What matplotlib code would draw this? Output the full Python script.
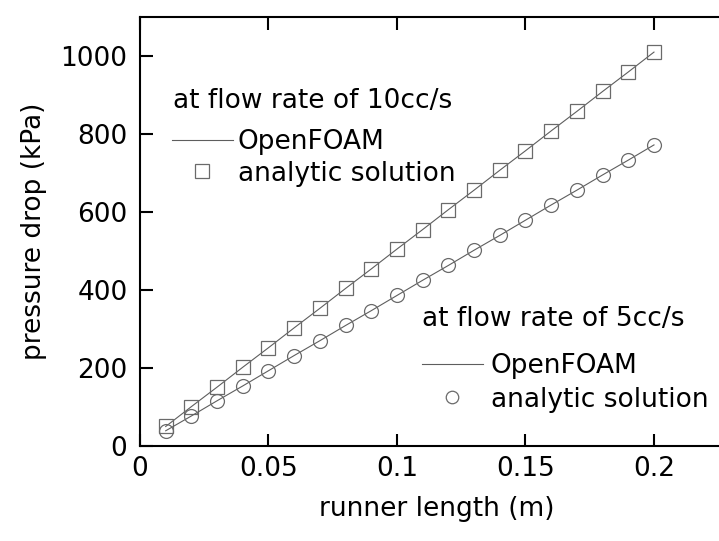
import matplotlib.pyplot as plt
from matplotlib.lines import Line2D

plt.rcParams['font.family'] = ['DejaVu Sans']

# runner length (m)
length = [0.01, 0.02, 0.03, 0.04, 0.05, 0.06, 0.07, 0.08, 0.09, 0.10,
          0.11, 0.12, 0.13, 0.14, 0.15, 0.16, 0.17, 0.18, 0.19, 0.20]
# pressure drop (kPa), 10cc/s
dp_10_openfoam = [50, 101, 151, 202, 252, 303, 353, 404, 454, 505,
                  555, 606, 656, 707, 757, 808, 858, 909, 959, 1010]
dp_10_analytic = [50, 101, 151, 202, 252, 303, 353, 404, 454, 505,
                  555, 606, 656, 707, 757, 808, 858, 909, 959, 1010]
# pressure drop (kPa), 5cc/s
dp_5_openfoam = [39, 77, 116, 154, 193, 232, 270, 309, 347, 386,
                 425, 463, 502, 540, 579, 618, 656, 695, 733, 772]
dp_5_analytic = [39, 77, 116, 154, 193, 232, 270, 309, 347, 386,
                 425, 463, 502, 540, 579, 618, 656, 695, 733, 772]

line_c = '#5e5e5e'
mark_c = '#6a6a6a'
fs = 19

fig = plt.figure(figsize=(7.19, 5.41), dpi=100)
ax = fig.add_axes([0.1947, 0.1756, 0.8936, 0.793])

ax.plot(length, dp_10_openfoam, color=line_c, lw=0.8)
ax.plot(length, dp_10_analytic, ls='none', marker='s', ms=10, mfc='none',
        mec=mark_c, mew=0.9)
ax.plot(length, dp_5_openfoam, color=line_c, lw=0.8)
ax.plot(length, dp_5_analytic, ls='none', marker='o', ms=10, mfc='none',
        mec=mark_c, mew=0.9)

ax.set_xlim(0, 0.25)
ax.set_ylim(0, 1100)
ax.set_xticks([0, 0.05, 0.1, 0.15, 0.2])
ax.set_xticklabels(['0', '0.05', '0.1', '0.15', '0.2'])
ax.set_yticks([0, 200, 400, 600, 800, 1000])
ax.tick_params(direction='in', length=9, width=1.5, labelsize=fs, top=True)
ax.tick_params(axis='y', pad=9)
ax.tick_params(axis='x', pad=7)
for s in ax.spines.values():
    s.set_linewidth(1.5)
ax.spines['right'].set_visible(False)

ax.set_xlabel('runner length (m)', fontsize=fs)
ax.xaxis.set_label_coords(0.462, -0.117)
ax.set_ylabel('pressure drop (kPa)', fontsize=fs, labelpad=10)

h_line = Line2D([], [], color=line_c, lw=0.8)
h_sq = Line2D([], [], ls='none', marker='s', ms=10, mfc='none', mec=mark_c, mew=0.9)
h_ci = Line2D([], [], ls='none', marker='o', ms=9, mfc='none', mec=mark_c, mew=0.9)

# legend titles
fig.text(173 / 719, 1 - 101 / 541, 'at flow rate of 10cc/s', fontsize=fs,
         ha='left', va='center')
fig.text(422 / 719, 1 - 319 / 541, 'at flow rate of 5cc/s', fontsize=fs,
         ha='left', va='center')

leg1 = ax.legend([h_line, h_sq], ['OpenFOAM', 'analytic solution'],
                 fontsize=fs, frameon=False, loc='center left',
                 bbox_to_anchor=(172 / 719, 1 - 158 / 541), bbox_transform=fig.transFigure,
                 handlelength=2.3, handletextpad=0.2, labelspacing=0.2,
                 borderaxespad=0, borderpad=0)
ax.add_artist(leg1)
leg2 = ax.legend([h_line, h_ci], ['OpenFOAM', 'analytic solution'],
                 fontsize=fs, frameon=False, loc='center left',
                 bbox_to_anchor=(422 / 719, 1 - 383 / 541), bbox_transform=fig.transFigure,
                 handlelength=2.3, handletextpad=0.3, labelspacing=0.28,
                 borderaxespad=0, borderpad=0)

fig.savefig('out.png', dpi=100)
